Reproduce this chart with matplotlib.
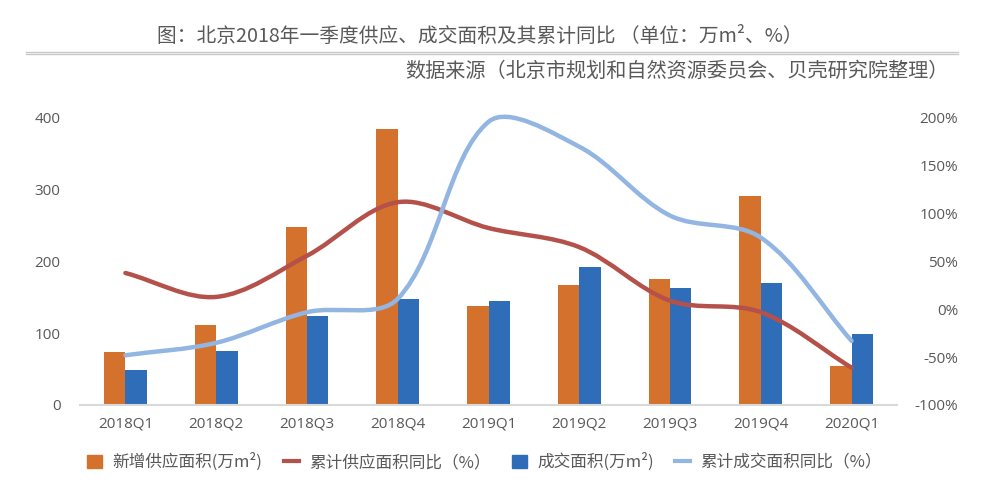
import matplotlib
matplotlib.use("Agg")
import matplotlib.pyplot as plt
import numpy as np
from matplotlib.path import Path
from matplotlib.patches import PathPatch, Patch
from matplotlib.lines import Line2D
from matplotlib.ticker import FuncFormatter

plt.rcParams['font.family'] = ['Noto Sans CJK SC', 'DejaVu Sans']

categories = ['2018Q1', '2018Q2', '2018Q3', '2018Q4', '2019Q1', '2019Q2', '2019Q3', '2019Q4', '2020Q1']
supply_area = [74, 112, 248, 384, 138, 167, 176, 291, 54]
deal_area = [49, 75, 124, 148, 145, 192, 163, 170, 99]
supply_yoy = [38, 13, 56, 112, 85, 65, 9, -3, -61]
deal_yoy = [-48, -35, -3, 11, 196, 170, 98, 75, -33]

orange = '#D4712D'
blue = '#2F6DB8'
red = '#B5514B'
lblue = '#92B5E2'
gray_txt = '#595959'

AX_RECT = [0.0806, 0.1615, 0.8227, 0.5942]
FIG_W, FIG_H = 993, 483


def smooth_path(xs, ys, sx, sy):
    """Excel-style smoothed line: cubic Bezier through the points,
    control points scaled by neighbouring chord lengths (screen space)."""
    P = np.column_stack([np.asarray(xs, float) * sx, np.asarray(ys, float) * sy])
    n = len(P)
    Pe = np.vstack([P[0], P, P[-1]])
    verts = [tuple(P[0])]
    codes = [Path.MOVETO]
    for i in range(1, n):
        p0, p1, p2, p3 = Pe[i - 1], Pe[i], Pe[i + 1], Pe[i + 2]
        d01 = np.hypot(*(p1 - p0))
        d12 = np.hypot(*(p2 - p1))
        d23 = np.hypot(*(p3 - p2))
        c1 = p1 + (p2 - p0) * (d12 / (d01 + d12)) / 3.0
        c2 = p2 - (p3 - p1) * (d12 / (d12 + d23)) / 3.0
        verts += [tuple(c1), tuple(c2), tuple(p2)]
        codes += [Path.CURVE4] * 3
    verts = [(vx / sx, vy / sy) for vx, vy in verts]
    return Path(verts, codes)


fig = plt.figure(figsize=(FIG_W / 100, FIG_H / 100), dpi=100)
ax = fig.add_axes(AX_RECT)
ax2 = ax.twinx()

x = np.arange(len(categories))
w = 0.235
ax.bar(x - w / 2, supply_area, width=w, color=orange, zorder=2)
ax.bar(x + w / 2, deal_area, width=w, color=blue, zorder=2)

ax.set_xlim(-0.5, len(categories) - 0.5)
ax.set_ylim(0, 400)
ax.set_yticks([0, 100, 200, 300, 400])
ax2.set_ylim(-100, 200)
ax2.set_yticks([-100, -50, 0, 50, 100, 150, 200])
ax2.yaxis.set_major_formatter(FuncFormatter(lambda v, p: f'{int(v)}%'))

sx = AX_RECT[2] * FIG_W / len(categories)
sy = AX_RECT[3] * FIG_H / 300.0
ax2.add_patch(PathPatch(smooth_path(x, supply_yoy, sx, sy), fill=False, edgecolor=red, lw=3.2,
                        capstyle='round', zorder=3, clip_on=False))
ax2.add_patch(PathPatch(smooth_path(x, deal_yoy, sx, sy), fill=False, edgecolor=lblue, lw=3.2,
                        capstyle='round', zorder=4, clip_on=False))

ax.set_xticks(x)
ax.set_xticklabels(categories)
for a in (ax, ax2):
    for s in a.spines.values():
        s.set_visible(False)
    a.tick_params(length=0, labelsize=11, labelcolor=gray_txt)
ax.spines['bottom'].set_visible(True)
ax.spines['bottom'].set_color('#D9D9D9')
ax.spines['bottom'].set_linewidth(1.5)
ax.tick_params(axis='y', pad=14)
ax2.tick_params(axis='y', pad=44)
ax.tick_params(axis='x', pad=8)
for lab in ax2.get_yticklabels():
    lab.set_horizontalalignment('right')
for lab in ax.get_yticklabels() + ax2.get_yticklabels() + ax.get_xticklabels():
    lab.set_fontfamily(['Open Sans', 'DejaVu Sans'])

fig.text(0.483, 0.925, '图：北京2018年一季度供应、成交面积及其累计同比 （单位：万m²、%）',
         ha='center', va='center', fontsize=14.2, color=gray_txt)
fig.add_artist(Line2D([0.026, 0.965], [0.893, 0.893], color='#C8C8C8', lw=1))
fig.add_artist(Line2D([0.026, 0.965], [0.889, 0.889], color='#C8C8C8', lw=1))
fig.text(0.955, 0.853, '数据来源（北京市规划和自然资源委员会、贝壳研究院整理）',
         ha='right', va='center', fontsize=14.5, color=gray_txt)

handles = [Patch(color=orange), Line2D([], [], color=red, lw=3),
           Patch(color=blue), Line2D([], [], color=lblue, lw=3)]
labels = ['新增供应面积(万m²)', '累计供应面积同比（%）', '成交面积(万m²)', '累计成交面积同比（%）']
fig.legend(handles, labels, loc='center', bbox_to_anchor=(0.488, 0.043), ncol=4, frameon=False,
           fontsize=12, handlelength=0.9, handleheight=0.9, columnspacing=1.3, handletextpad=0.6,
           labelcolor=gray_txt)

fig.savefig('out.png', dpi=100)
